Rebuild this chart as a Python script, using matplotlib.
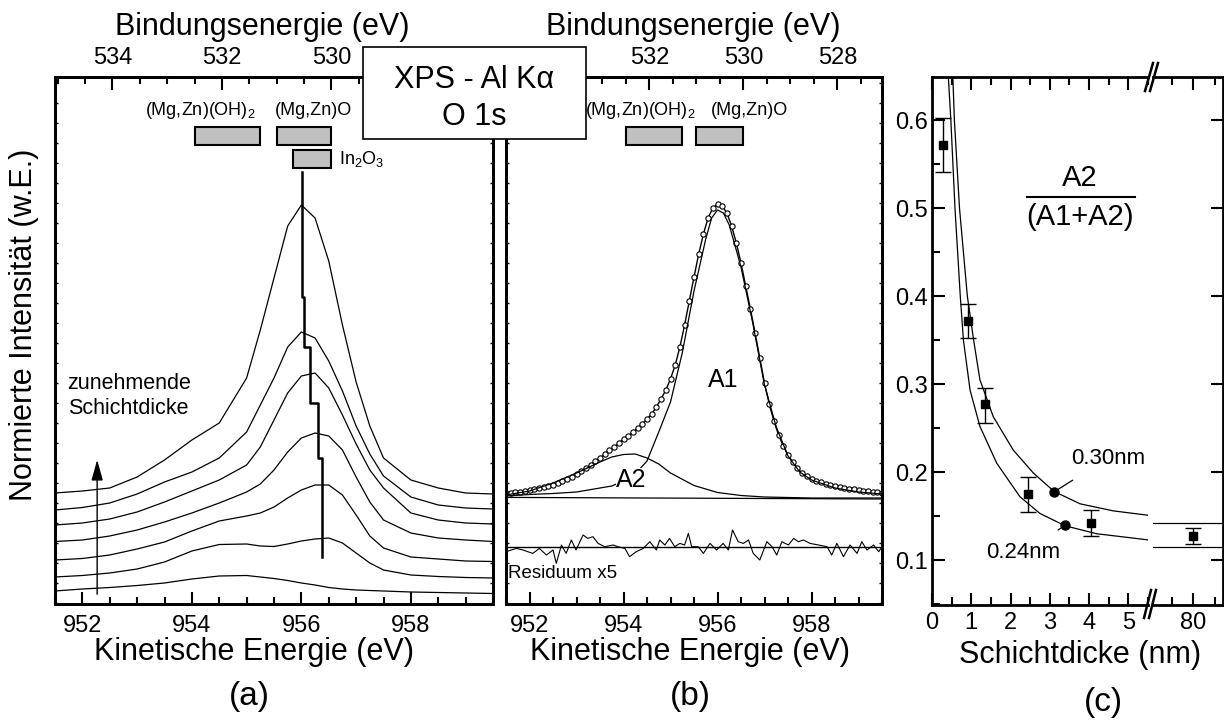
import numpy as np
import matplotlib
matplotlib.use("Agg")
import matplotlib.pyplot as plt
from matplotlib.ticker import MultipleLocator, NullFormatter, FuncFormatter
from matplotlib.patches import Rectangle
from matplotlib.lines import Line2D
import matplotlib.transforms as mtransforms

plt.rcParams['font.family'] = ['Liberation Sans', 'DejaVu Sans']
plt.rcParams['mathtext.default'] = 'regular'

HV = 1486.55  # Al K-alpha, KE <-> BE

# ---------- (a) O 1s spectra, increasing film thickness (bottom -> top)
ke_a = [951.5, 952.0, 952.5, 953.0, 953.5, 954.0, 954.5, 955.0, 955.25, 955.5, 955.75,
        956.0, 956.25, 956.5, 956.75, 957.0, 957.25, 957.5, 958.0, 958.5, 959.0, 959.5]
spec_1 = [0.12, 0.14, 0.155, 0.175, 0.20, 0.24, 0.27, 0.275, 0.26, 0.245, 0.225,
          0.20, 0.18, 0.155, 0.14, 0.13, 0.125, 0.12, 0.11, 0.105, 0.10, 0.095]
spec_2 = [0.26, 0.275, 0.30, 0.34, 0.41, 0.52, 0.585, 0.59, 0.57, 0.565, 0.59,
          0.62, 0.64, 0.65, 0.60, 0.50, 0.40, 0.33, 0.28, 0.265, 0.255, 0.25]
spec_3 = [0.43, 0.445, 0.48, 0.54, 0.61, 0.72, 0.82, 0.87, 0.90, 0.96, 1.05,
          1.13, 1.18, 1.18, 1.08, 0.88, 0.67, 0.55, 0.46, 0.44, 0.42, 0.415]
spec_4 = [0.615, 0.63, 0.67, 0.73, 0.81, 0.90, 1.00, 1.11, 1.19, 1.33, 1.51,
          1.65, 1.70, 1.67, 1.53, 1.26, 1.01, 0.83, 0.70, 0.65, 0.63, 0.615]
spec_5 = [0.78, 0.80, 0.84, 0.91, 1.01, 1.12, 1.23, 1.38, 1.56, 1.83, 2.10,
          2.27, 2.30, 2.15, 1.88, 1.59, 1.33, 1.15, 0.90, 0.83, 0.80, 0.79]
spec_6 = [0.93, 0.955, 1.00, 1.09, 1.21, 1.31, 1.45, 1.71, 1.98, 2.25, 2.56,
          2.71, 2.65, 2.42, 2.12, 1.77, 1.49, 1.27, 1.06, 0.98, 0.95, 0.94]
spec_7 = [1.10, 1.12, 1.15, 1.26, 1.43, 1.63, 1.80, 2.25, 2.73, 3.25, 3.77,
          3.98, 3.85, 3.42, 2.78, 2.21, 1.77, 1.45, 1.23, 1.15, 1.10, 1.09]
spectra_a = [spec_1, spec_2, spec_3, spec_4, spec_5, spec_6, spec_7]

# peak position marker (step line)
peak_ke = [956.01, 956.04, 956.15, 956.31, 956.38]
peak_step_y = [4.31, 3.06, 2.56, 2.00, 1.45, 0.46]

# reference binding energies
ref_names = ['(Mg,Zn)(OH)$_2$', '(Mg,Zn)O', 'In$_2$O$_3$']
ref_be_lo = [531.3, 530.0, 530.0]
ref_be_hi = [532.5, 531.0, 530.7]

# ---------- (b) fit of thickest film
ke_b = np.round(np.arange(951.5, 959.55, 0.1), 2)
o1s_b = [1.10, 1.10, 1.11, 1.11, 1.12, 1.13, 1.14, 1.15, 1.16, 1.17,
         1.18, 1.20, 1.22, 1.24, 1.26, 1.29, 1.32, 1.35, 1.38, 1.42,
         1.45, 1.49, 1.53, 1.56, 1.60, 1.64, 1.67, 1.71, 1.75, 1.79,
         1.84, 1.89, 1.96, 2.04, 2.13, 2.24, 2.38, 2.56, 2.78, 3.02,
         3.26, 3.49, 3.69, 3.85, 3.95, 3.99, 3.97, 3.90, 3.77, 3.60,
         3.40, 3.17, 2.94, 2.70, 2.45, 2.20, 1.99, 1.82, 1.68, 1.57,
         1.48, 1.41, 1.35, 1.30, 1.27, 1.24, 1.22, 1.21, 1.19, 1.18,
         1.17, 1.16, 1.15, 1.14, 1.14, 1.13, 1.12, 1.12, 1.11, 1.11, 1.10]

ke_a1 = [951.5, 952.0, 952.5, 953.0, 953.5, 953.75, 954.0, 954.25, 954.5, 954.75, 955.0,
         955.25, 955.5, 955.75, 955.875, 956.0, 956.125, 956.25, 956.5, 956.75, 957.0,
         957.25, 957.5, 957.75, 958.0, 958.5, 959.0, 959.5]
a1_b = [1.07, 1.085, 1.095, 1.11, 1.15, 1.17, 1.22, 1.29, 1.42, 1.71, 2.01,
        2.50, 3.12, 3.64, 3.85, 3.93, 3.90, 3.78, 3.36, 2.80, 2.18,
        1.76, 1.47, 1.31, 1.23, 1.15, 1.11, 1.09]

ke_a2 = [951.5, 952.0, 952.5, 953.0, 953.5, 953.75, 954.0, 954.25, 954.5, 954.75,
         955.0, 955.5, 956.0, 956.5, 957.0, 958.0, 959.5]
a2_b = [1.08, 1.12, 1.20, 1.30, 1.41, 1.46, 1.485, 1.49, 1.45, 1.39,
        1.30, 1.175, 1.105, 1.075, 1.06, 1.05, 1.05]

bg_ke = [951.5, 959.5]
bg_b = [1.056, 1.040]

res_zero = 0.563
res_ke = [951.50, 951.72, 951.86, 952.07, 952.21, 952.36, 952.50, 952.57, 952.68, 952.78,
          952.89, 952.99, 953.14, 953.24, 953.35, 953.46, 953.60, 953.78, 953.88, 954.03,
          954.13, 954.27, 954.42, 954.56, 954.70, 954.77, 954.88, 954.98, 955.09, 955.20,
          955.30, 955.38, 955.45, 955.59, 955.70, 955.84, 955.98, 956.12, 956.23, 956.32,
          956.44, 956.55, 956.66, 956.76, 956.90, 957.05, 957.16, 957.26, 957.37, 957.51,
          957.62, 957.72, 957.83, 957.97, 958.15, 958.33, 958.43, 958.54, 958.68, 958.82,
          958.97, 959.07, 959.18, 959.32, 959.43, 959.50]
res_b = [-0.05, -0.017, -0.033, -0.067, -0.017, -0.083, -0.033, -0.167, 0.017, -0.067,
         0.067, -0.033, 0.117, 0.083, 0.10, 0.033, 0.0, 0.017, 0.0, -0.017,
         -0.10, -0.05, -0.017, 0.05, -0.033, 0.067, 0.017, 0.083, 0.0, 0.033,
         0.017, 0.133, 0.0, 0.0, -0.067, 0.033, -0.033, 0.033, -0.033, 0.167,
         0.05, 0.033, 0.067, -0.067, -0.133, 0.05, 0.0, -0.083, 0.05, 0.017,
         0.083, 0.05, 0.067, 0.033, 0.017, 0.0, -0.083, 0.033, -0.10, 0.017,
         -0.067, 0.05, -0.033, 0.017, -0.05, 0.0]

# ---------- (c) A2/(A1+A2) vs thickness
thick = [0.29, 0.92, 1.35, 2.45, 4.06]
ratio = [0.572, 0.372, 0.277, 0.175, 0.142]
ratio_hi = [0.602, 0.391, 0.296, 0.195, 0.157]
ratio_lo = [0.541, 0.352, 0.256, 0.155, 0.127]
thick_bulk = [80]
ratio_bulk = [0.127]
ratio_bulk_hi = [0.137]
ratio_bulk_lo = [0.118]

model_030_x = [0.50, 0.53, 0.57, 0.70, 0.90, 1.06, 1.22, 1.56, 2.07, 2.58, 3.11, 3.77, 4.61, 5.50]
model_030_y = [0.69, 0.65, 0.60, 0.50, 0.40, 0.35, 0.305, 0.263, 0.225, 0.199, 0.178, 0.164, 0.156, 0.151]
model_024_x = [0.39, 0.415, 0.48, 0.585, 0.72, 0.80, 0.97, 1.22, 1.65, 2.24, 2.75, 3.39, 4.19, 5.50]
model_024_y = [0.69, 0.65, 0.60, 0.50, 0.40, 0.35, 0.293, 0.252, 0.21, 0.172, 0.153, 0.139, 0.130, 0.123]
model_limit = [0.142, 0.115]
model_dots_x = [3.11, 3.39]
model_dots_y = [0.1776, 0.1394]

W, H = 1224, 722


def box(l, r, t, b):
    return [l / W, 1 - b / H, (r - l) / W, (b - t) / H]


def fx(px):
    return px / W


def fy(py):
    return 1 - py / H


fig = plt.figure(figsize=(12.24, 7.22), dpi=100)
ax_a = fig.add_axes(box(55, 493, 77, 604))
ax_b = fig.add_axes(box(506, 882, 77, 604))
ax_c = fig.add_axes(box(932, 1148, 77, 605))
ax_d = fig.add_axes(box(1153, 1223, 77, 605))


def style_spec(ax, shown_be):
    ax.set_xlim(951.5, 959.5)
    ax.set_ylim(-0.01, 5.26)
    ax.xaxis.set_major_locator(MultipleLocator(2))
    ax.xaxis.set_minor_locator(MultipleLocator(0.5))
    ax.yaxis.set_major_locator(MultipleLocator(0.2))
    ax.yaxis.set_major_formatter(NullFormatter())
    ax.tick_params(axis='x', which='major', direction='in', length=9, width=1.5,
                   labelsize=17, pad=8, top=False)
    ax.tick_params(axis='x', which='minor', direction='in', length=5, width=1.5, top=False)
    ax.tick_params(axis='y', which='major', direction='in', length=2.5, width=1,
                   left=True, right=True)
    for s in ax.spines.values():
        s.set_linewidth(2)
    top = ax.twiny()
    top.set_xlim(HV - 951.5, HV - 959.5)
    top.xaxis.set_major_locator(MultipleLocator(2))
    top.xaxis.set_minor_locator(MultipleLocator(0.5))
    # labels hidden under the XPS box are left out
    top.xaxis.set_major_formatter(
        FuncFormatter(lambda v, p: '%d' % round(v) if round(v) in shown_be else ''))
    top.tick_params(axis='x', which='major', direction='in', length=9, width=1.5,
                    labelsize=17, pad=6)
    top.tick_params(axis='x', which='minor', direction='in', length=5, width=1.5)
    for s in top.spines.values():
        s.set_linewidth(2)
    return top


def ref_boxes(ax, n, rows):
    trans = mtransforms.blended_transform_factory(ax.transData, ax.transAxes)
    for i in range(n):
        y0, y1 = rows[i]
        ax.add_patch(Rectangle((HV - ref_be_hi[i], y0), ref_be_hi[i] - ref_be_lo[i], y1 - y0,
                               transform=trans, fc='#c0c0c0', ec='black', lw=1.5, zorder=4))
    return trans


# ---- panel (a)
style_spec(ax_a, (534, 532, 530))
for spec in spectra_a:
    ax_a.plot(ke_a, spec, color='black', lw=0.9)
xs, ys = [], []
for i, ke in enumerate(peak_ke):
    xs += [ke, ke]
    ys += [peak_step_y[i], peak_step_y[i + 1]]
ax_a.plot(xs, ys, color='black', lw=1.8)
tr = ref_boxes(ax_a, 3, [(0.871, 0.905), (0.871, 0.905), (0.827, 0.8615)])
ax_a.text(954.15, 0.928, ref_names[0], transform=tr, ha='center', va='baseline', fontsize=13)
ax_a.text(956.22, 0.928, ref_names[1], transform=tr, ha='center', va='baseline', fontsize=13)
ax_a.text(956.69, 0.844, ref_names[2], transform=tr, ha='left', va='center', fontsize=13)
ax_a.annotate('', xy=(952.27, 1.46), xytext=(952.27, 0.06),
              arrowprops=dict(arrowstyle='-|>,head_length=0.9,head_width=0.25',
                              color='black', lw=1.0, mutation_scale=14))
ax_a.text(951.73, 2.07, 'zunehmende\nSchichtdicke', ha='left', va='center',
          fontsize=15.5, linespacing=1.25)

# ---- panel (b)
style_spec(ax_b, (532, 530, 528))
ax_b.plot(ke_b, o1s_b, '-', color='black', lw=1.0)
ax_b.plot(ke_b, o1s_b, 'o', ms=3.8, mfc='white', mec='black', mew=0.8)
ax_b.plot(ke_a1, a1_b, color='black', lw=0.9)
ax_b.plot(ke_a2, a2_b, color='black', lw=0.9)
ax_b.plot(bg_ke, bg_b, color='black', lw=0.9)
ax_b.axhline(res_zero, color='black', lw=1.0)
ax_b.plot(res_ke, [res_zero + r for r in res_b], color='black', lw=0.8)
trb = ref_boxes(ax_b, 2, [(0.871, 0.905), (0.871, 0.905)])
ax_b.text(954.35, 0.928, ref_names[0], transform=trb, ha='center', va='baseline', fontsize=13)
ax_b.text(956.69, 0.928, ref_names[1], transform=trb, ha='center', va='baseline', fontsize=13)
ax_b.text(956.12, 2.23, 'A1', ha='center', va='center', fontsize=18)
ax_b.text(954.17, 1.23, 'A2', ha='center', va='center', fontsize=18, zorder=5,
          bbox=dict(fc='white', ec='none', pad=0.3))
ax_b.text(951.55, 0.30, 'Residuum x5', ha='left', va='center', fontsize=13.5)

# ---- panel (c)
for ax in (ax_c, ax_d):
    ax.set_ylim(0.049, 0.649)
    ax.yaxis.set_major_locator(MultipleLocator(0.1))
    for s in ax.spines.values():
        s.set_linewidth(2)
ax_c.set_xlim(0, 5.5)
ax_d.set_xlim(70.7, 86.9)
ax_c.spines['right'].set_visible(False)
ax_d.spines['left'].set_visible(False)

ax_c.xaxis.set_major_locator(MultipleLocator(1))
ax_c.xaxis.set_minor_locator(MultipleLocator(0.5))
ax_c.yaxis.set_minor_locator(MultipleLocator(0.05))
ax_c.tick_params(axis='both', which='major', direction='in', length=9, width=1.5,
                 labelsize=17, top=True, right=False)
ax_c.tick_params(axis='both', which='minor', direction='in', length=5.5, width=1.5,
                 top=True, right=False)
ax_c.tick_params(axis='x', pad=5)
ax_c.tick_params(axis='y', pad=3)
ax_c.set_yticks([0.1, 0.2, 0.3, 0.4, 0.5, 0.6])
ax_c.set_yticklabels(['0.1', '0.2', '0.3', '0.4', '0.5', '0.6'])

ax_d.xaxis.set_major_locator(MultipleLocator(10))
ax_d.xaxis.set_minor_locator(MultipleLocator(5))
ax_d.tick_params(axis='x', which='major', direction='in', length=9, width=1.5,
                 labelsize=17, top=True, pad=5)
ax_d.tick_params(axis='x', which='minor', direction='in', length=5.5, width=1.5, top=True)
ax_d.tick_params(axis='y', which='major', direction='in', length=9, width=1.5,
                 left=False, right=True, labelleft=False)

err_c = [np.subtract(ratio, ratio_lo), np.subtract(ratio_hi, ratio)]
ax_c.errorbar(thick, ratio, yerr=err_c, fmt='s', ms=6, color='black', ecolor='black',
              elinewidth=1, capsize=6, capthick=1)
ax_c.plot(model_030_x, model_030_y, color='black', lw=0.9)
ax_c.plot(model_024_x, model_024_y, color='black', lw=0.9)
ax_c.plot(model_dots_x, model_dots_y, 'o', ms=6.5, color='black')
ax_c.annotate('0.30nm', xy=(model_dots_x[0], model_dots_y[0]), xytext=(4.48, 0.216),
              ha='center', va='center', fontsize=16,
              arrowprops=dict(arrowstyle='-', color='black', lw=0.9, shrinkA=12, shrinkB=0))
ax_c.annotate('0.24nm', xy=(model_dots_x[1], model_dots_y[1]), xytext=(2.32, 0.109),
              ha='center', va='center', fontsize=16,
              arrowprops=dict(arrowstyle='-', color='black', lw=0.9, shrinkA=12, shrinkB=0))
ax_c.text(3.77, 0.534, 'A2', ha='center', va='center', fontsize=21)
ax_c.plot([2.41, 5.17], [0.513, 0.513], color='black', lw=1.5)
ax_c.text(3.77, 0.490, '(A1+A2)', ha='center', va='center', fontsize=21)

err_d = [np.subtract(ratio_bulk, ratio_bulk_lo), np.subtract(ratio_bulk_hi, ratio_bulk)]
ax_d.errorbar(thick_bulk, ratio_bulk, yerr=err_d, fmt='s', ms=6, color='black',
              ecolor='black', elinewidth=1, capsize=6, capthick=1)
for lim in model_limit:
    ax_d.axhline(lim, color='black', lw=0.9)

# axis break marks
for x0 in (1145, 1150):
    fig.add_artist(Line2D([fx(x0), fx(x0 + 8)], [fy(91), fy(63)], color='black', lw=1.8))
    fig.add_artist(Line2D([fx(x0 - 1), fx(x0 + 6)], [fy(618), fy(590)], color='black', lw=1.8))

# ---- figure texts
fig.text(fx(262), fy(27), 'Bindungsenergie (eV)', ha='center', va='center', fontsize=22)
fig.text(fx(693), fy(27), 'Bindungsenergie (eV)', ha='center', va='center', fontsize=22)
fig.text(fx(254), fy(652), 'Kinetische Energie (eV)', ha='center', va='center', fontsize=22)
fig.text(fx(690), fy(652), 'Kinetische Energie (eV)', ha='center', va='center', fontsize=22)
fig.text(fx(1080), fy(655), 'Schichtdicke (nm)', ha='center', va='center', fontsize=22)
fig.text(fx(24), fy(325), 'Normierte Intensität (w.E.)', ha='center', va='center',
         rotation=90, fontsize=22)
fig.text(fx(249), fy(697), '(a)', ha='center', va='center', fontsize=24)
fig.text(fx(690), fy(697), '(b)', ha='center', va='center', fontsize=24)
fig.text(fx(1103), fy(702), '(c)', ha='center', va='center', fontsize=24)

fig.add_artist(Rectangle((fx(363), fy(139)), fx(586) - fx(363), fy(47) - fy(139),
                         transform=fig.transFigure, fc='white', ec='black', lw=1.2, zorder=10))
fig.text(fx(474), fy(80), 'XPS - Al K\u03b1', ha='center', va='center', fontsize=22, zorder=11)
fig.text(fx(474), fy(117), 'O 1s', ha='center', va='center', fontsize=22, zorder=11)

fig.savefig('out.png', dpi=100)
